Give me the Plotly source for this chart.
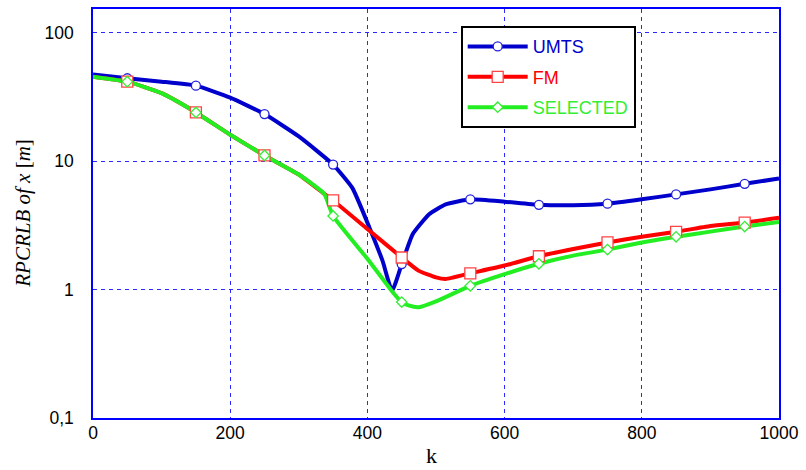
import plotly.graph_objects as go

# ---- data ----
k_umts = [0, 50, 100, 150, 200, 250, 300, 350, 378, 403, 422, 436, 450, 466, 490, 514, 550,
          600, 650, 700, 750, 800, 850, 900, 950, 1000]
v_umts = [47.5, 44.3, 41.7, 38.8, 31.3, 23.3, 15.6, 9.42, 6.2, 3.04, 1.68, 0.98, 1.58, 2.70, 3.86, 4.61, 5.05,
          4.84, 4.58, 4.54, 4.67, 5.05, 5.52, 6.04, 6.67, 7.34]

k_fm = [0, 50, 100, 150, 200, 250, 300, 337, 350, 400, 450, 475, 500, 514, 550,
        600, 650, 700, 750, 800, 850, 900, 950, 1000]
v_fm = [45.6, 41.7, 33.9, 24.0, 16.1, 11.1, 7.88, 5.58, 4.95, 2.97, 1.78, 1.40, 1.245, 1.21, 1.34,
        1.54, 1.82, 2.07, 2.33, 2.58, 2.82, 3.13, 3.33, 3.63]

k_sel = [0, 50, 100, 150, 200, 250, 300, 337, 350, 400, 437, 450, 461, 475, 500, 550,
         600, 650, 700, 750, 800, 850, 900, 950, 1000]
v_sel = [45.6, 41.7, 33.9, 24.0, 16.1, 11.1, 7.88, 5.58, 3.75, 1.74, 0.955, 0.80, 0.75, 0.73, 0.81, 1.07,
         1.32, 1.59, 1.84, 2.05, 2.33, 2.58, 2.83, 3.10, 3.36]

k_marks = [50, 150, 250, 350, 450, 550, 650, 750, 850, 950]
umts_marks = [44.3, 38.8, 23.3, 9.42, 1.58, 5.05, 4.58, 4.67, 5.52, 6.67]
fm_marks = [41.7, 24.0, 11.1, 4.95, 1.78, 1.34, 1.82, 2.33, 2.82, 3.33]
sel_marks = [41.7, 24.0, 11.1, 3.75, 0.80, 1.07, 1.59, 2.05, 2.58, 3.10]

x_ticks = [0, 200, 400, 600, 800, 1000]
y_ticks = [0.1, 1, 10, 100]
y_tick_text = ["0,1", "1", "10", "100"]

names = ["UMTS", "FM", "SELECTED"]
line_colors = ["#0000cc", "#ff0000", "#22ee22"]
text_colors = ["#0000cc", "#ff0000", "#33ee33"]
mark_colors = ["#2222dd", "#ff4444", "#33ee33"]
symbols_f = ["circle", "square", "diamond"]
sizes = [9, 11, 8]

fig = go.Figure()
curves = [(k_umts, v_umts), (k_fm, v_fm), (k_sel, v_sel)]
marks = [umts_marks, fm_marks, sel_marks]

for (kx, vy), c in zip(curves, line_colors):
    fig.add_trace(go.Scatter(x=kx, y=vy, mode="lines",
                             line=dict(color=c, width=4, shape="spline", smoothing=0.45),
                             showlegend=False, hoverinfo="skip"))
for m, c, s, sz in zip(marks, mark_colors, symbols_f, sizes):
    fig.add_trace(go.Scatter(x=k_marks, y=m, mode="markers",
                             marker=dict(symbol=s, size=sz, color="white",
                                         line=dict(color=c, width=1.3)),
                             showlegend=False, hoverinfo="skip"))
for n, c, tc, mc, s, sz in zip(names, line_colors, text_colors, mark_colors, symbols_f, sizes):
    fig.add_trace(go.Scatter(x=[None], y=[None], mode="lines+markers",
                             name='<span style="color:%s">%s</span>' % (tc, n),
                             legendgroup=n,
                             line=dict(color=c, width=4),
                             marker=dict(symbol=s, size=sz, color="white",
                                         line=dict(color=mc, width=1.3))))

axis_common = dict(showline=True, mirror=True, linecolor="#0000ff", linewidth=1.5,
                   showgrid=True, gridcolor="#2a2aff", gridwidth=1, griddash="4px,4px",
                   zeroline=False, ticks="",
                   tickfont=dict(family="Liberation Sans, Arial", size=17.5, color="black"))

fig.update_xaxes(range=[0, 1000], tickvals=x_ticks, ticklabelstandoff=-2, **axis_common)
fig.update_yaxes(type="log", range=[-1, 2.186], tickvals=y_ticks, ticktext=y_tick_text,
                 ticklabelstandoff=14, **axis_common)

fig.update_layout(
    width=806, height=470,
    margin=dict(l=93, r=25, t=7, b=52),
    paper_bgcolor="white", plot_bgcolor="white",
    showlegend=True,
    legend=dict(x=0.536, y=0.958, xanchor="left", yanchor="top",
                bgcolor="white", bordercolor="black", borderwidth=2,
                font=dict(family="Liberation Sans, Arial", size=18),
                itemwidth=60, traceorder="grouped", tracegroupgap=4),
    annotations=[
        dict(text="<i>RPCRLB of x </i>[<i>m</i>]", xref="paper", yref="paper",
             x=(22 - 93) / 688, y=0.5, xanchor="center", yanchor="middle",
             textangle=-90, showarrow=False,
             font=dict(family="Liberation Serif, Times New Roman", size=21, color="black")),
        dict(text="k", xref="paper", yref="paper",
             x=(432 - 93) / 688, y=-(456 - 418) / 411, xanchor="center", yanchor="middle",
             showarrow=False,
             font=dict(family="Liberation Serif, Times New Roman", size=22, color="black")),
    ],
)

fig.write_html("out.html")
